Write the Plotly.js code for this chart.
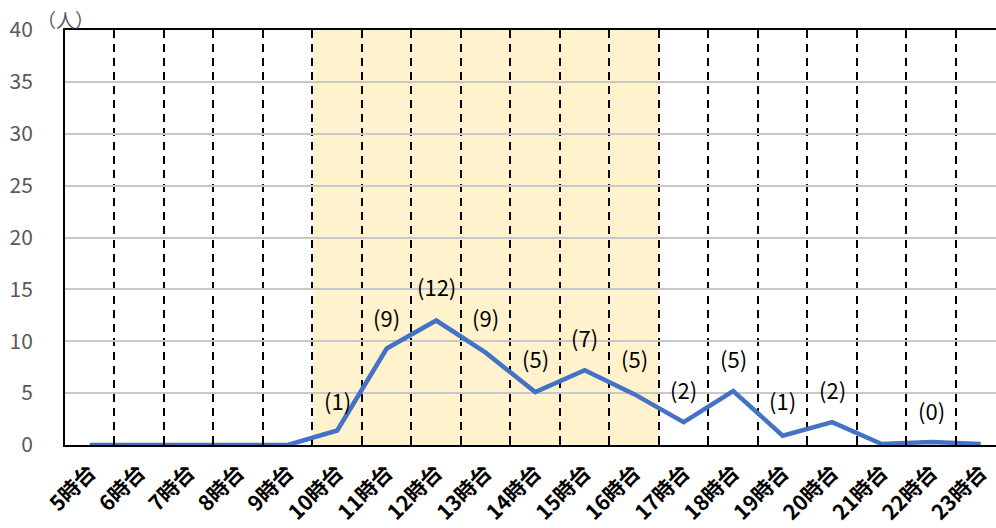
<!DOCTYPE html>
<html><head><meta charset="utf-8">
<script src="https://cdn.plot.ly/plotly-3.0.1.min.js"></script>
<style>html,body{margin:0;padding:0;background:#fff;}#chart{width:996px;height:528px;}</style>
</head><body><div id="chart"></div>
<script>
const categories = ["5時台","6時台","7時台","8時台","9時台","10時台","11時台","12時台","13時台","14時台","15時台","16時台","17時台","18時台","19時台","20時台","21時台","22時台","23時台"];
const lineValues = [0,0,0,0,0,1.4,9.3,12,8.9,5.1,7.2,4.9,2.2,5.2,0.9,2.2,0.1,0.3,0.1];
const labelCategories = ["10時台","11時台","12時台","13時台","14時台","15時台","16時台","17時台","18時台","19時台","20時台","22時台"];
const labelValues = [1,9,12,9,5,7,5,2,5,1,2,0];
const shadeStart = "10時台";
const shadeEnd = "16時台";

const FONT = "'Noto Sans CJK JP', 'Noto Sans', sans-serif";

const annotations = labelCategories.map((c, i) => ({
  x: categories.indexOf(c), y: labelValues[i], xref: "x", yref: "y",
  text: "(" + labelValues[i] + ")", showarrow: false, yshift: 35,
  font: {family: FONT, size: 22, color: "#000"}
}));
annotations.push({xref: "paper", yref: "paper", x: 0, y: 1, xanchor: "center", yanchor: "middle",
  xshift: 0, yshift: 11, text: "（人）", showarrow: false, font: {family: FONT, size: 19, color: "#595959"}});

const layout = {
  width: 996, height: 528,
  margin: {l: 65, r: 0, t: 30, b: 83},
  paper_bgcolor: "#fff", plot_bgcolor: "rgba(0,0,0,0)",
  showlegend: false,
  xaxis: {
    type: "category", range: [-0.5, 18.31], tickson: "boundaries",
    showgrid: true, gridcolor: "#000", gridwidth: 2, griddash: "8px,6px",
    ticks: "inside", ticklen: 5, tickcolor: "#000", tickwidth: 2,
    showline: true, linecolor: "#000", linewidth: 2, mirror: true,
    tickangle: -45, tickfont: {family: FONT, size: 21, color: "#000", weight: "bold"},
    ticklabelstandoff: 5, zeroline: false
  },
  yaxis: {
    range: [0, 40], dtick: 5, showgrid: true, gridcolor: "#c8c8c8", gridwidth: 2,
    showline: true, linecolor: "#000", linewidth: 2, mirror: true,
    ticks: "", tickfont: {family: FONT, size: 21, color: "#595959"},
    ticklabelstandoff: 26, zeroline: false
  },
  shapes: [{
    type: "rect", layer: "below", xref: "x", yref: "paper",
    x0: categories.indexOf(shadeStart) - 0.5, x1: categories.indexOf(shadeEnd) + 0.5, y0: 0, y1: 1,
    fillcolor: "#fff2cc", line: {width: 0}
  }],
  annotations: annotations
};

Plotly.newPlot("chart", [{
  type: "scatter", mode: "lines", x: categories, y: lineValues,
  line: {color: "#4472c4", width: 4.5}, cliponaxis: true, hoverinfo: "skip"
}], layout, {staticPlot: true});
</script></body></html>
